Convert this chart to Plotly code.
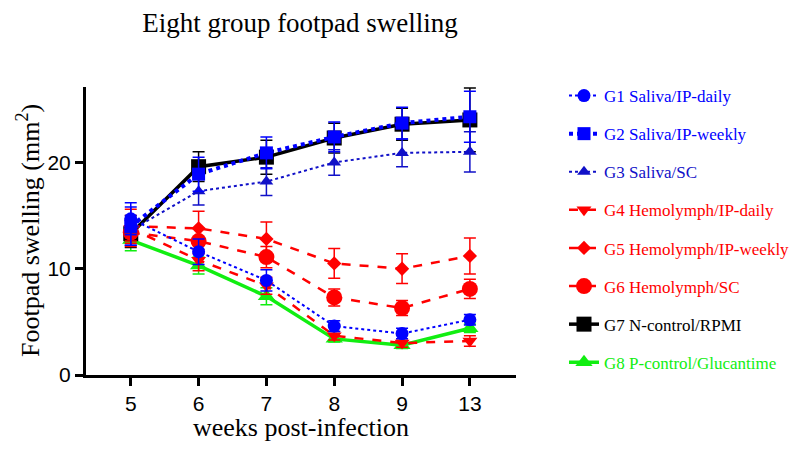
import plotly.graph_objects as go

weeks = ['5', '6', '7', '8', '9', '13']

g1_mean = [14.7, 11.6, 8.9, 4.6, 3.9, 5.2]
g1_err = [1.5, 1.2, 1.0, 0.5, 0.5, 0.5]
g2_mean = [14.0, 18.9, 20.9, 22.4, 23.7, 24.3]
g2_err = [1.8, 1.6, 1.5, 1.4, 1.5, 2.4]
g3_mean = [13.6, 17.3, 18.2, 20.0, 20.9, 21.0]
g3_err = [1.4, 1.3, 1.3, 1.2, 1.3, 1.9]
g4_mean = [13.8, 10.8, 8.4, 3.7, 3.0, 3.2]
g4_err = [1.2, 1.0, 0.8, 0.4, 0.4, 0.5]
g5_mean = [14.0, 13.8, 12.8, 10.5, 10.0, 11.2]
g5_err = [1.6, 1.6, 1.6, 1.4, 1.4, 1.7]
g6_mean = [13.4, 12.6, 11.1, 7.3, 6.3, 8.1]
g6_err = [1.3, 1.2, 1.0, 0.8, 0.7, 0.9]
g7_mean = [13.3, 19.6, 20.5, 22.3, 23.6, 24.0]
g7_err = [1.3, 1.4, 1.6, 1.4, 1.5, 3.0]
g8_mean = [12.7, 10.3, 7.4, 3.4, 2.8, 4.4]
g8_err = [1.0, 0.8, 0.8, 0.3, 0.3, 0.4]

names = ['G1 Saliva/IP-daily', 'G2 Saliva/IP-weekly', 'G3 Saliva/SC',
         'G4 Hemolymph/IP-daily', 'G5 Hemolymph/IP-weekly', 'G6 Hemolymph/SC',
         'G7 N-control/RPMI', 'G8 P-control/Glucantime']

BLUE = '#0000ff'
DBLUE = '#1010c8'
RED = '#ff0000'
BLACK = '#000000'
GREEN = '#11ee11'

# (mean, err, colour, dash, line width, symbol, marker size)
groups = [
    (g1_mean, g1_err, BLUE, 'dot', 2, 'circle', 13),
    (g2_mean, g2_err, BLUE, 'dot', 4, 'square', 13),
    (g3_mean, g3_err, DBLUE, 'dot', 2, 'triangle-up', 12),
    (g4_mean, g4_err, RED, 'dash', 2.5, 'triangle-down', 13),
    (g5_mean, g5_err, RED, 'dash', 2.5, 'diamond', 11),
    (g6_mean, g6_err, RED, 'dash', 2.5, 'circle', 16),
    (g7_mean, g7_err, BLACK, 'solid', 3.5, 'square', 15),
    (g8_mean, g8_err, GREEN, 'solid', 3.5, 'triangle-up', 15),
]

fig = go.Figure()

# last group drawn first so blue ends up on top, like the original
for i in reversed(range(len(groups))):
    mean, err, col, dash, lw, sym, ms = groups[i]
    fig.add_trace(go.Scatter(
        x=weeks, y=mean, mode='lines+markers',
        name=f'<span style="color:{col}">{names[i]}</span>',
        legendrank=i + 1, legendgroup=f'g{i}',
        line=dict(color=col, dash=dash, width=lw),
        marker=dict(symbol=sym, size=ms, color=col),
        error_y=dict(type='data', array=err, color=col, thickness=1.5, width=6),
    ))

fig.update_layout(
    width=797, height=466,
    margin=dict(l=78, r=289, t=79, b=99, autoexpand=False),
    paper_bgcolor='white', plot_bgcolor='white',
    font=dict(family='Liberation Serif', color='black'),
    title=dict(text='Eight group footpad swelling', x=292 / 797, xanchor='center',
               y=1 - 15 / 466, yanchor='middle', font=dict(size=27)),
    showlegend=True,
    legend=dict(xref='container', x=556 / 797, xanchor='left',
                yref='container', y=1 - 70 / 466, yanchor='top', maxheight=400,
                font=dict(size=17, family='Liberation Serif'), tracegroupgap=13,
                itemwidth=30, bgcolor='rgba(0,0,0,0)'),
)

fig.update_xaxes(
    type='category', range=[-0.66, 5.68],
    showline=True, linecolor='black', linewidth=3,
    ticks='outside', ticklen=8, tickwidth=2.5, tickcolor='black',
    showgrid=False, zeroline=False,
    tickfont=dict(family='Liberation Sans', size=21),
)
fig.update_yaxes(
    range=[0, 27.1], tickvals=[0, 10, 20],
    showline=True, linecolor='black', linewidth=3,
    ticks='outside', ticklen=8, tickwidth=2.5, tickcolor='black',
    showgrid=False, zeroline=False,
    tickfont=dict(family='Liberation Sans', size=21),
)

fig.add_annotation(text='weeks post-infection', xref='paper', yref='paper',
                   x=0.5, y=1 - (419 - 79) / 288, xanchor='center', yanchor='middle',
                   showarrow=False, font=dict(size=26))
fig.add_annotation(text='Footpad swelling (mm<sup>2</sup>)', xref='paper', yref='paper',
                   x=(20 - 78) / 430, y=0.5, xanchor='center', yanchor='middle', textangle=-90,
                   showarrow=False, font=dict(size=26))

fig.write_html('out.html')
